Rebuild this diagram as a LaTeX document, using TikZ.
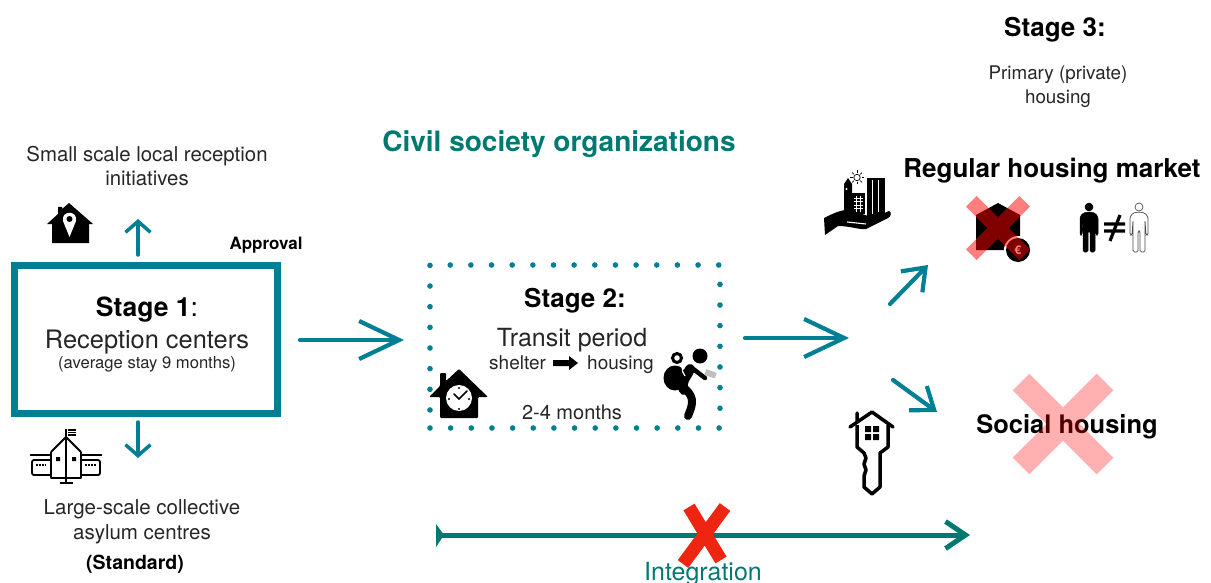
\documentclass[tikz,border=0pt]{standalone}
\usepackage{fontspec}
\usepackage{xcolor}
\setmainfont{TeX Gyre Heros}
\usetikzlibrary{arrows.meta}

\definecolor{boxteal}{HTML}{007F95}
\definecolor{darkteal}{HTML}{007A70}
\definecolor{crossred}{HTML}{EE2510}
\newcommand{\fs}[1]{\fontsize{#1}{#1}\selectfont}

\tikzset{
  lbl/.style={inner sep=0pt, align=center, text=black!85},
  boldlbl/.style={inner sep=0pt, align=center, text=black},
  flow/.style={boxteal, line width=3.5pt, line cap=round, -{Straight Barb[length=11pt,width=25pt]}},
  bigflow/.style={boxteal, line width=4.2pt, line cap=round, -{Straight Barb[length=40pt,width=38pt]}},
  diagflow/.style={boxteal, line width=4.2pt, line cap=round, -{Straight Barb[length=20pt,width=30pt]}},
  pics/personfig/.style={code={
    \path[pic actions, rounded corners=1.5pt] (0,-16) -- (6,-15) -- (9,-11) -- (9,7) -- (7,7) -- (6,-8) -- (6,24)
      -- (1,24) -- (1,3) -- (-1,3) -- (-1,24) -- (-6,24) -- (-6,-8) -- (-7,7) -- (-9,7) -- (-9,-11) -- (-6,-15) -- cycle;
    \path[pic actions] (0,-21) circle[radius=4];
  }}
}

\begin{document}
\begin{tikzpicture}[x=1pt, y=-1pt]
  \useasboundingbox (0,0) rectangle (1211,583);

  % boxes
  \node (stageone) [draw=boxteal, line width=7pt, minimum width=262.5pt, minimum height=148pt, inner sep=0pt] at (146.2,339) {};
  \node (stagetwo) [draw=boxteal, line width=5.6pt, line cap=round, dash pattern=on 0pt off 20.65pt, minimum width=290pt, minimum height=163pt, inner sep=0pt] at (575,346.5) {};

  % arrow ends
  \coordinate (upfrom) at (138,255);
  \coordinate (upto) at (138,219);
  \coordinate (downfrom) at (138,422);
  \coordinate (downto) at (138,458);
  \coordinate (onefrom) at (300,340);
  \coordinate (oneto) at (404,340);
  \coordinate (twofrom) at (745,338);
  \coordinate (twoto) at (849,338);
  \coordinate (marketfrom) at (890,304);
  \coordinate (marketto) at (928,265);
  \coordinate (socialfrom) at (893,380);
  \coordinate (socialto) at (937,412);
  \coordinate (linefrom) at (440,535);
  \coordinate (lineto) at (970,535);

  \draw[flow] (upfrom) -- (upto);
  \draw[flow] (downfrom) -- (downto);
  \draw[bigflow] (onefrom) -- (oneto);
  \draw[bigflow] (twofrom) -- (twoto);
  \draw[diagflow] (marketfrom) -- (marketto);
  \draw[diagflow] (socialfrom) -- (socialto);
  \draw[darkteal, line width=5pt, -{Straight Barb[length=20pt,width=27pt]}] (linefrom) -- (lineto);
  \fill[darkteal] (436,524) -- (444,535) -- (436,547) -- cycle;
  \draw[crossred, line width=13pt] (689,507) -- (721,560) (725,507) -- (683,564);

  % texts
  \node (stagethree) [boldlbl, font=\bfseries\fs{26}] at (1055,30) {Stage 3:};
  \node (primary) [lbl, font=\fs{18.8}, execute at begin node={\baselineskip=24pt}] at (1058,87) {Primary (private)\\housing};
  \node (civil) [boldlbl, font=\bfseries\fs{28}, text=darkteal] at (559,144) {Civil society organizations};
  \node (small) [lbl, font=\fs{20.4}, execute at begin node={\baselineskip=24pt}] at (147,166) {Small scale local reception\\initiatives};
  \node (approval) [boldlbl, font=\bfseries\fs{17}] at (266,245) {Approval};
  \node (stageonehead) [boldlbl, font=\fs{26.5}] at (147,310) {\textbf{Stage 1}:};
  \node (reception) [lbl, font=\fs{25.4}] at (147,342) {Reception centers};
  \node (average) [lbl, font=\fs{16.6}] at (147,364) {(average stay 9 months)};
  \node (large) [lbl, font=\fs{20.5}, execute at begin node={\baselineskip=25pt}] at (142,521.5) {Large-scale collective\\asylum centres};
  \node (standard) [boldlbl, font=\bfseries\fs{19.5}] at (135,564) {(Standard)};
  \node (stagetwohead) [boldlbl, font=\bfseries\fs{26}] at (575,301) {Stage 2:};
  \node (transit) [lbl, font=\fs{25}] at (572,340) {Transit period};
  \node (shelter) [lbl, font=\fs{19}, anchor=base west] at (489,369) {shelter};
  \node (housing) [lbl, font=\fs{19}, anchor=base west] at (587,369) {housing};
  \node (months) [lbl, font=\fs{20}] at (572,412) {2-4 months};
  \node (market) [boldlbl, font=\bfseries\fs{26}] at (1052,171) {Regular housing market};
  \node (social) [boldlbl, font=\bfseries\fs{25.5}] at (1067,427) {Social housing};
  \node (integration) [lbl, font=\fs{25}, text=darkteal, anchor=base] at (703,580) {Integration};

  % shelter to housing
  \fill[black] (553,360) -- (569,360) -- (569,356) -- (578,363) -- (569,370) -- (569,366) -- (553,366) -- cycle;

  % pin house
  \fill[black] (69,203) -- (93,224) -- (89,224) -- (89,243) -- (52,243) -- (52,224) -- (47,224) -- (58,214) -- (58,207) -- (62,207) -- (62,209) -- cycle;
  \fill[white] (63,221) .. controls (61,210) and (78,210) .. (76,221) -- (69.5,237) -- cycle;
  \fill[black] (69.5,219) circle[radius=3];

  % school
  \draw[black, line width=1.8pt, line join=round] (51,452) -- (66,437) -- (81,452) (51,452) -- (51,478) -- (81,478) -- (81,452);
  \draw[black, line width=1.8pt] (66,429) -- (66,482) (60,483) -- (73,483);
  \draw[black, line width=1.1pt] (68,430) -- (76,430) (68,432.5) -- (76,432.5) (68,435) -- (76,435);
  \draw[black, line width=1.8pt] (30,455) -- (51,455) (81,455) -- (102,455);
  \draw[black, line width=1.8pt, rounded corners=2pt] (51,460) -- (32,460) -- (32,475) -- (51,475) (81,460) -- (100,460) -- (100,475) -- (81,475);
  \fill[black] (56,457) rectangle (60,461) (72,457) rectangle (76,461);
  \draw[black, line width=1.6pt, dash pattern=on 1.6pt off 1.4pt] (36,465) -- (46,465) (85,465) -- (96,465);

  % clock house
  \fill[black, rounded corners=1pt] (459,369) -- (488,397) -- (478,397) -- (478,418) -- (440,418) -- (440,397) -- (429,397) -- (440,386) -- (440,373) -- (446,373) -- (446,381) -- cycle;
  \fill[white] (459,398) circle[radius=13];
  \draw[black, line width=1.6pt, line cap=round] (454,394) -- (459,399) -- (467,391);
  \fill[black] (459,388) circle[radius=1.1] (459,409) circle[radius=1.1] (449,399) circle[radius=1.1] (469,399) circle[radius=1.1];

  % walker
  \fill[black] (700,356) circle[radius=7.5];
  \fill[black] (675,378) ellipse[x radius=11.5, y radius=12.5];
  \draw[black, line width=3pt, fill=white] (677,358) circle[radius=4.5];
  \draw[black, line width=10pt, line cap=round] (690,369) .. controls (686,378) and (680,382) .. (684,390);
  \draw[black, line width=8pt, line cap=round] (684,388) .. controls (697,398) and (691,408) .. (688,416);
  \draw[black, line width=4.5pt, line cap=round] (692,368) -- (705,378);
  \draw[white, line width=1.2pt] (686,360) .. controls (681,364) and (681,371) .. (685,376);
  \fill[black!25, rotate around={-20:(711,374)}] (705,371) rectangle (716,377);

  % hand with city
  \fill[black] (824,218) .. controls (832,214) and (842,209) .. (850,210) -- (868,216) .. controls (878,219) and (885,212) .. (889,211) .. controls (892,212) and (891,217) .. (888,218) -- (866,229) .. controls (860,230) and (850,226) .. (838,226) -- (825,235) -- cycle;
  \draw[white, line width=1.1pt] (847,222) -- (866,224);
  \fill[black] (844,211) -- (844,184) -- (848,178) -- (852,184) -- (852,211) -- cycle;
  \fill[black] (852,193) rectangle (865,214);
  \fill[black] (867,178) rectangle (885,217);
  \fill[white] (846.5,189) circle[radius=1.2];
  \draw[white, line width=.9pt, step=3.6pt] (854,196) grid (863,212);
  \draw[white, line width=1pt] (872,180) -- (872,214) (878,180) -- (878,212);
  \draw[black, line width=.7pt] (857,177.5) circle[radius=3.2];
  \foreach \ang in {0,45,...,315} {
    \draw[black, line width=.7pt] (857,177.5) ++(\ang:4.5) -- ++(\ang:2.5);
  }

  % euro house under the cross
  \fill[black] (998,203) -- (1020,215) -- (1020,250) -- (976,250) -- (976,215) -- cycle;
  \fill[white] (1018,250) circle[radius=14];
  \fill[black] (1018,250) circle[radius=12];
  \node (euro) [lbl, font=\bfseries\fs{12}, text=white] at (1018,250) {€};
  \draw[red, opacity=.5, line width=15pt] (971.3,201.3) -- (1024.7,254.7) (1024.7,201.3) -- (971.3,254.7);

  % people
  \pic [fill=black, draw=black, line width=.5pt] at (1089,228) {personfig};
  \pic [fill=white, draw=black!70, line width=.7pt] at (1139,228) {personfig};
  \draw[black, line width=3.2pt] (1104,224) -- (1125,224) (1104,231) -- (1125,231) (1120,215) -- (1110,241);

  % key house
  \draw[black, line width=3.5pt, line join=round, line cap=round] (850,427) -- (872,412) -- (893,427) (857,413) -- (857,422);
  \draw[black, line width=3.5pt, line join=round] (857,425) -- (857,447) -- (864,453) -- (866,458) -- (864,464) -- (866,470) -- (864,476) -- (864,487) -- (872,494) -- (880,487) -- (880,453) -- (888,447) -- (888,425);
  \fill[black] (865,426) rectangle (871,432) (873,426) rectangle (879,432) (865,434) rectangle (871,440) (873,434) rectangle (879,440);

  % social housing cross
  \draw[red, opacity=.31, line width=23.5pt] (1021,382) -- (1105,466) (1105,382) -- (1021,466);
\end{tikzpicture}
\end{document}
